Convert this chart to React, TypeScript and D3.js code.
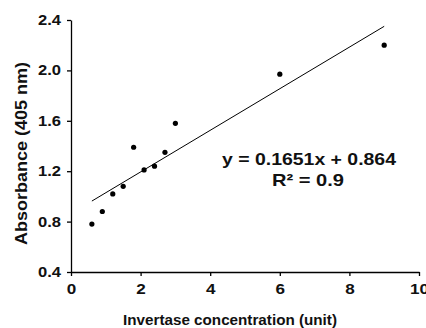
import React, { useEffect, useRef } from 'react';
import * as d3 from 'd3';

// invertase concentration (unit) vs absorbance at 405 nm
const concentration = [0.6, 0.9, 1.2, 1.5, 1.8, 2.1, 2.4, 2.7, 3, 6, 9];
const absorbance = [0.78, 0.88, 1.02, 1.08, 1.39, 1.21, 1.24, 1.35, 1.58, 1.97, 2.2];
const xTicks = [0, 2, 4, 6, 8, 10];
const yTicks = [0.4, 0.8, 1.2, 1.6, 2.0, 2.4];
const slope = 0.1651;
const intercept = 0.864;
const equationText = 'y = 0.1651x + 0.864';
const rSquaredText = 'R² = 0.9';

const width = 426;
const height = 328;
const margin = { top: 20, right: 7, bottom: 56, left: 71 };
const font = '"Liberation Sans", Arial, sans-serif';

export default function App() {
	const ref = useRef<SVGSVGElement | null>(null);

	useEffect(() => {
		const svg = d3.select(ref.current);
		svg.selectAll('*').remove();

		const xScale = d3
			.scaleLinear()
			.domain([0, 10])
			.range([margin.left, width - margin.right]);
		const yScale = d3
			.scaleLinear()
			.domain([0.4, 2.4])
			.range([height - margin.bottom, margin.top]);

		const g = svg.append('g').style('font-family', font).style('font-weight', 'bold');

		// axes
		const xAxis = g
			.append('g')
			.attr('transform', `translate(0,${yScale(0.4)})`)
			.call(
				d3
					.axisBottom(xScale)
					.tickValues(xTicks)
					.tickSize(4)
					.tickSizeOuter(0)
					.tickPadding(8)
					.tickFormat(d3.format('d'))
			);
		const yAxis = g
			.append('g')
			.attr('transform', `translate(${xScale(0)},0)`)
			.call(
				d3
					.axisLeft(yScale)
					.tickValues(yTicks)
					.tickSize(4)
					.tickSizeOuter(0)
					.tickPadding(6)
					.tickFormat(d3.format('.1f'))
			);
		[xAxis, yAxis].forEach(ax => {
			ax.select('.domain').attr('stroke', '#000').attr('stroke-width', 1.3);
			ax.selectAll('.tick line').attr('stroke', '#000').attr('stroke-width', 1.3);
			ax.selectAll('.tick text')
				.attr('fill', '#111')
				.style('font-family', font)
				.style('font-weight', 'bold')
				.style('font-size', '14px');
		});
		// excel draws the labels a bit wider than the font would
		yAxis.selectAll('.tick text').attr('textLength', 23).attr('lengthAdjust', 'spacingAndGlyphs');
		xAxis
			.selectAll('.tick text')
			.attr('textLength', (d: any) => (d >= 10 ? 19 : 9.5))
			.attr('lengthAdjust', 'spacingAndGlyphs');

		// trend line
		const line = d3
			.line<number>()
			.x(d => xScale(d))
			.y(d => yScale(slope * d + intercept));
		g.append('path')
			.datum([d3.min(concentration) as number, d3.max(concentration) as number])
			.attr('fill', 'none')
			.attr('stroke', '#000')
			.attr('stroke-width', 1)
			.attr('d', line);

		// points
		g.selectAll('.pt')
			.data(concentration)
			.enter()
			.append('circle')
			.attr('class', 'pt')
			.attr('cx', d => xScale(d))
			.attr('cy', (d, i) => yScale(absorbance[i]))
			.attr('r', 2.6)
			.attr('fill', '#000');

		// equation
		g.append('text')
			.attr('x', 309)
			.attr('y', 165)
			.attr('text-anchor', 'middle')
			.attr('textLength', 174)
			.attr('lengthAdjust', 'spacingAndGlyphs')
			.style('font-size', '17px')
			.attr('fill', '#111')
			.text(equationText);
		g.append('text')
			.attr('x', 308)
			.attr('y', 186)
			.attr('text-anchor', 'middle')
			.attr('textLength', 72)
			.attr('lengthAdjust', 'spacingAndGlyphs')
			.style('font-size', '17px')
			.attr('fill', '#111')
			.text(rSquaredText);

		// axis titles
		g.append('text')
			.attr('x', 230)
			.attr('y', 325)
			.attr('text-anchor', 'middle')
			.attr('textLength', 214)
			.attr('lengthAdjust', 'spacingAndGlyphs')
			.style('font-size', '15px')
			.attr('fill', '#111')
			.text('Invertase concentration (unit)');
		g.append('text')
			.attr('transform', `translate(27,153.5) rotate(-90)`)
			.attr('text-anchor', 'middle')
			.attr('textLength', 183)
			.attr('lengthAdjust', 'spacingAndGlyphs')
			.style('font-size', '16px')
			.attr('fill', '#111')
			.text('Absorbance (405 nm)');
	}, []);

	return (
		<svg
			ref={ref}
			width={width}
			height={height}
			style={{ position: 'absolute', left: 0, top: 0, background: '#fff' }}
		/>
	);
}
